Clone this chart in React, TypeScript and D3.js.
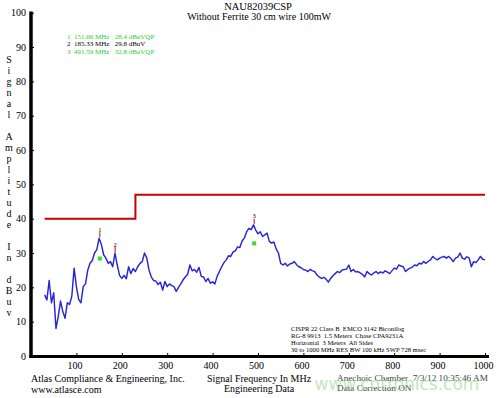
import React, { useEffect, useRef } from "react";
import * as d3 from "d3";

// sweep: 30..1000 MHz, 5 MHz per point
const sweepStart = 30;
const sweepStep = 5;
const amplitude = [
  17.8, 16.3, 22.0, 15.5, 18.4, 8.0, 11.5, 16.0, 13.0, 11.0,
  15.5, 15.0, 17.5, 25.6, 20.2, 16.5, 15.5, 20.2, 21.0, 25.0,
  27.0, 27.8, 30.0, 31.0, 34.3, 32.5, 29.5, 28.5, 27.0, 27.5,
  26.0, 30.0, 26.5, 23.5, 22.6, 23.5, 22.5, 26.0, 24.0, 25.5,
  24.6, 26.0, 27.0, 27.5, 30.0, 28.5, 25.0, 23.0, 22.0, 21.8,
  20.8, 21.5, 19.2, 21.7, 20.2, 21.0, 20.5, 20.2, 18.8, 20.0,
  21.0, 22.2, 23.0, 23.8, 26.5, 24.8, 25.2, 24.4, 25.8, 23.2,
  23.0, 21.7, 22.6, 21.2, 21.6, 21.0, 23.2, 24.6, 26.0, 27.2,
  28.0, 29.2, 29.0, 30.3, 30.6, 31.8, 31.6, 33.5, 34.4, 36.2,
  37.2, 36.8, 38.2, 36.7, 35.6, 36.2, 34.8, 35.3, 35.8, 33.4,
  32.9, 33.2, 31.2, 30.0, 27.0, 26.5, 27.0, 26.2, 26.8, 27.0,
  27.5, 26.6, 26.0, 25.7, 25.2, 25.0, 24.6, 25.2, 24.8, 24.6,
  23.6, 23.0, 22.6, 22.9, 22.4, 21.5, 22.6, 23.4, 24.0, 24.6,
  24.3, 25.0, 25.2, 25.3, 26.5, 24.6, 25.2, 24.5, 24.6, 24.2,
  23.8, 23.0, 24.6, 24.0, 23.6, 24.2, 24.6, 24.0, 24.5, 24.2,
  24.8, 24.4, 24.0, 24.8, 25.6, 25.3, 26.5, 26.2, 26.0, 24.6,
  25.2, 25.6, 25.9, 26.5, 26.3, 27.0, 26.8, 27.5, 27.0, 27.6,
  28.0, 29.0, 28.4, 28.0, 28.5, 28.8, 29.0, 28.5, 29.0, 28.4,
  27.5, 28.5, 28.8, 30.0, 28.5, 28.2, 28.9, 28.6, 26.0, 27.5,
  27.2, 28.0, 29.0, 28.2, 28.0,
];

// CISPR 22 class B limit (step)
const limitFreq = [30, 230, 230, 1000];
const limitVal = [40, 40, 47, 47];

// markers
const markerNo = ["1", "2", "3"];
const markerFreq = [151.66, 185.33, 491.59];
const markerPeak = [34.3, 30.0, 38.2];
const markerQP = [28.4, null, 32.8];
const markerText = ["1  151.66 MHz   28.4 dBuVQP", "2  185.33 MHz   29.8 dBuV", "3  491.59 MHz   32.8 dBuVQP"];
const markerColor = ["#2ecc2e", "#000", "#2ecc2e"];

const yTicks = [0, 10, 20, 30, 40, 50, 60, 70, 80, 90, 100];
const xTicks = [100, 200, 300, 400, 500, 600, 700, 800, 900, 1000];

const notes = [
  "CISPR 22 Class B  EMCO 3142 Biconilog",
  "RG-8 9913  1.5 Meters  Chase CPA9231A",
  "Horizontal  3 Meters  All Sides",
  "30 to 1000 MHz RES BW 100 kHz SWP 728 msec",
];
const yLabel = "Signal Amplitude In dBuv";

const W = 500, H = 398;
const serif = "'Liberation Serif', 'Times New Roman', serif";

export default function App() {
  const svgRef = useRef<SVGSVGElement>(null);

  useEffect(() => {
    const svg = d3.select(svgRef.current);
    svg.selectAll("*").remove();

    const x = d3.scaleLinear().domain([0, 1000]).range([31, 485]);
    const y = d3.scaleLinear().domain([0, 100]).range([356, 12.7]);

    svg.append("rect").attr("width", W).attr("height", H).attr("fill", "#fff");

    // titles
    svg.append("text").attr("x", 258).attr("y", 10).attr("text-anchor", "middle")
      .attr("font-family", serif).attr("font-size", 10.5).text("NAU82039CSP");
    svg.append("text").attr("x", 259).attr("y", 20).attr("text-anchor", "middle")
      .attr("font-family", serif).attr("font-size", 10).text("Without Ferrite 30 cm wire 100mW");

    // vertical y label, one letter per row
    yLabel.split("").forEach((ch, i) => {
      svg.append("text").attr("x", 9).attr("y", 62.5 + i * 11).attr("text-anchor", "middle")
        .attr("font-family", serif).attr("font-size", 10).text(ch);
    });

    // limit line
    const lim = d3.line<number>().x((d, i) => x(limitFreq[i])).y((d) => y(d));
    svg.append("path").attr("d", lim(limitVal)).attr("fill", "none")
      .attr("stroke", "#c80000").attr("stroke-width", 2);

    // trace
    const trace = d3.line<number>().x((d, i) => x(sweepStart + i * sweepStep)).y((d) => y(d));
    svg.append("path").attr("d", trace(amplitude)).attr("fill", "none")
      .attr("stroke", "#2626d4").attr("stroke-width", 1.45).attr("stroke-linejoin", "round");

    // markers
    markerFreq.forEach((f, i) => {
      const px = x(f), py = y(markerPeak[i]);
      svg.append("line").attr("x1", px).attr("x2", px).attr("y1", py - 1).attr("y2", py - 6)
        .attr("stroke", "#c80000").attr("stroke-width", 1);
      svg.append("text").attr("x", px).attr("y", py - 6.5).attr("text-anchor", "middle")
        .attr("font-family", serif).attr("font-size", 6.5).text(markerNo[i]);
      if (markerQP[i] != null) {
        svg.append("rect").attr("x", px - 2).attr("y", y(markerQP[i] as number) - 2)
          .attr("width", 4).attr("height", 4).attr("fill", "#33dd33");
      }
    });

    // marker list
    markerText.forEach((t, i) => {
      svg.append("text").attr("x", 67).attr("y", 38.5 + i * 7.5)
        .attr("font-family", serif).attr("font-size", 7).attr("fill", markerColor[i])
        .style("white-space", "pre").text(t);
    });

    // axes
    const gy = svg.append("g").attr("transform", "translate(31,0)")
      .call(d3.axisLeft(y).tickValues(yTicks).tickSize(-3).tickPadding(5).tickFormat(d3.format("d")));
    gy.select(".domain").remove();
    gy.selectAll("text").attr("font-family", serif).attr("font-size", 10).attr("fill", "#000");
    gy.selectAll("line").attr("stroke", "#000");

    const gx = svg.append("g").attr("transform", "translate(0,356)")
      .call(d3.axisBottom(x).tickValues(xTicks).tickSize(-3).tickPadding(6).tickFormat(d3.format("d")));
    gx.select(".domain").remove();
    gx.selectAll("text").attr("font-family", serif).attr("font-size", 10).attr("fill", "#000").attr("dx", -2);
    gx.selectAll("line").attr("stroke", "#000");

    svg.append("line").attr("x1", 31).attr("x2", 31).attr("y1", 11.5).attr("y2", 358)
      .attr("stroke", "#000").attr("stroke-width", 3.5);
    svg.append("line").attr("x1", 29.5).attr("x2", 489).attr("y1", 356.5).attr("y2", 356.5)
      .attr("stroke", "#000").attr("stroke-width", 3);

    // notes box
    notes.forEach((t, i) => {
      svg.append("text").attr("x", 291).attr("y", 331 + i * 7)
        .attr("font-family", serif).attr("font-size", 6.6)
        .style("white-space", "pre").text(t);
    });

    // footer
    const foot = (tx, px, py, anchor = "start", size = 10, fill = "#000") =>
      svg.append("text").attr("x", px).attr("y", py).attr("text-anchor", anchor)
        .attr("font-family", serif).attr("font-size", size).attr("fill", fill)
        .style("white-space", "pre").text(tx);
    foot("Atlas Compliance & Engineering, Inc.", 31, 382);
    foot("www.atlasce.com", 31, 392.5);
    foot("Signal Frequency In MHz", 259, 382, "middle");
    foot("Engineering Data", 259, 392, "middle");
    foot("Anechoic Chamber  7/3/12 10:35:46 AM", 337, 381, "start", 9.2, "#444");
    foot("Data Correction ON", 337, 390.5, "start", 9.2, "#444");

    // watermark
    svg.append("text").attr("x", 397).attr("y", 390).attr("text-anchor", "middle")
      .attr("font-family", "'DejaVu Sans', sans-serif").attr("font-size", 17)
      .attr("fill", "#8fd48a").attr("opacity", 0.55).text("www.cntronics.com");
  }, []);

  return (
    <svg ref={svgRef} width={W} height={H}
      style={{ position: "fixed", left: 0, top: 0, background: "#fff" }} />
  );
}
